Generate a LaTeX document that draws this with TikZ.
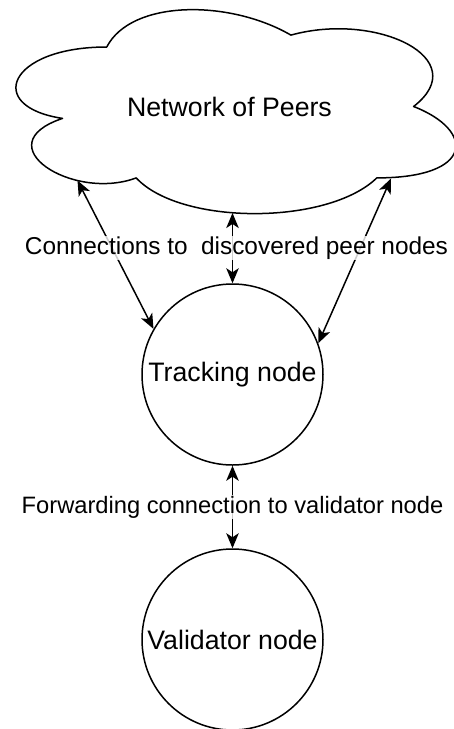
\documentclass[tikz,border=0pt]{standalone}
\usepackage{fontspec}
\setmainfont{Liberation Sans}
\usetikzlibrary{arrows.meta}
\begin{document}
\begin{tikzpicture}[x=1pt,y=-1pt,
  outline/.style={draw=black,line width=1.5pt},
  bigtext/.style={font=\fontsize{26.7}{30}\selectfont},
  peer/.style={outline,circle,minimum size=181pt,inner sep=0pt,bigtext},
  link/.style={line width=1.5pt,{Stealth[length=15pt,width=12.5pt,inset=4pt]}-{Stealth[length=15pt,width=12.5pt,inset=4pt]}},
  edgelabel/.style={fill=white,fill opacity=0.8,text opacity=1,inner sep=1pt}]
\useasboundingbox (0,0) rectangle (454,729);

% cloud outline
\draw[outline,line join=round]
  (106.75,47)
  .. controls (8.55,47) and (-16,106.5) .. (62.56,118.4)
  .. controls (-16,144.6) and (72.4,201.7) .. (136.2,177.9)
  .. controls (180.4,225.5) and (327.7,225.5) .. (376.8,177.9)
  .. controls (475,177.9) and (475,130.3) .. (413.6,106.5)
  .. controls (475,58.9) and (376.8,11.3) .. (290.9,35.1)
  .. controls (229.5,-0.6) and (131.3,-0.6) .. cycle;
\node[bigtext] (net) at (229.5,106.5) {Network of Peers};

% attachment points on the cloud rim
\coordinate (nbl) at (77.5,180.5);
\coordinate (nbm) at (232.5,213);
\coordinate (nbr) at (391,178.5);

% peers
\node[peer] (track) at (232.5,374.5) {Tracking node};
\node[peer] (valid) at (232.5,639.5) {Validator node};

% connections
\draw[link] (nbl) -- (track.150);
\draw[link] (nbm) -- (track.north);
\draw[link] (nbr) -- (track.20);
\draw[link] (track.south) -- (valid.north);

% labels
\node[edgelabel,font=\fontsize{24.4}{28}\selectfont] (lconn) at (236.5,248)
  {Connections to\hspace{0.55em}discovered peer nodes};
\node[edgelabel,font=\fontsize{23.7}{28}\selectfont] (lfwd) at (232.5,507)
  {Forwarding connection to validator node};
\end{tikzpicture}
\end{document}
